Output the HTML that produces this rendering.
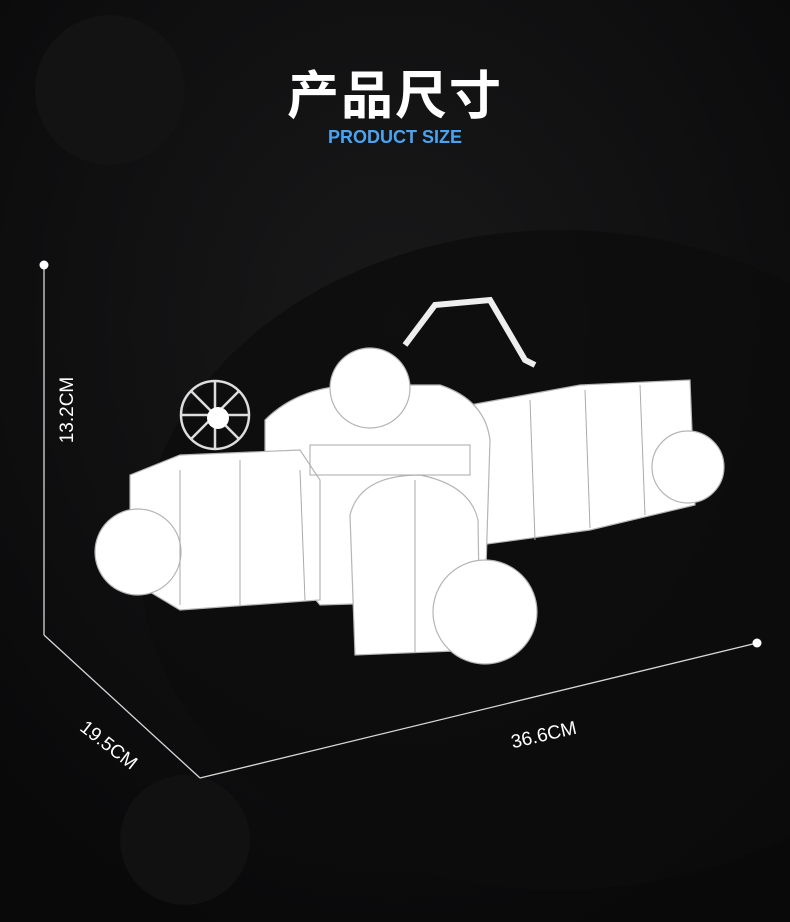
<!DOCTYPE html>
<html><head><meta charset="utf-8"><style>
html,body{margin:0;padding:0;background:#0b0b0c;}
body{width:790px;height:922px;overflow:hidden;position:relative;font-family:"Liberation Sans","Noto Sans CJK SC",sans-serif;}
.t{position:absolute;left:0;width:790px;text-align:center;color:#fff;}
</style></head><body>
<svg width="790" height="922" style="position:absolute;left:0;top:0">
<defs>
<radialGradient id="bg" cx="50%" cy="35%" r="70%"><stop offset="0" stop-color="#19191a"/><stop offset="1" stop-color="#09090a"/></radialGradient>
</defs>
<rect width="790" height="922" fill="url(#bg)"/>
<circle cx="110" cy="90" r="75" fill="#131314"/>
<circle cx="185" cy="840" r="65" fill="#111112"/>
<ellipse cx="560" cy="560" rx="420" ry="330" fill="#0c0c0d" opacity="0.8"/>
<g stroke="#d8d8d8" stroke-width="1.3" fill="none">
<line x1="44" y1="265" x2="44" y2="635"/>
<line x1="44" y1="635" x2="200" y2="778"/>
<line x1="200" y1="778" x2="757" y2="643"/>
</g>
<circle cx="44" cy="265" r="4.5" fill="#fff"/>
<circle cx="757" cy="643" r="4.5" fill="#fff"/>
<g fill="#fff" stroke="#b5b5b5" stroke-width="1.2">
<polygon points="470,405 580,385 690,380 695,505 590,530 480,545"/>
<circle cx="688" cy="467" r="36"/>
<path d="M265,420 Q300,385 360,385 L440,385 Q485,400 490,440 L485,600 L320,605 Q280,560 265,500 Z"/>
<ellipse cx="370" cy="388" rx="40" ry="40"/>
<polygon points="130,475 180,455 300,450 320,480 320,600 180,610 130,580"/>
<circle cx="138" cy="552" r="43"/>
<path d="M350,515 Q360,475 420,475 Q470,485 478,520 L480,650 L355,655 Z"/>
<circle cx="485" cy="612" r="52"/>
</g>
<g stroke="#ddd" stroke-width="2.5" fill="none">
<circle cx="215" cy="415" r="34"/>
<line x1="181" y1="415" x2="249" y2="415"/><line x1="215" y1="381" x2="215" y2="449"/>
<line x1="191" y1="391" x2="239" y2="439"/><line x1="239" y1="391" x2="191" y2="439"/>
</g>
<circle cx="218" cy="418" r="11" fill="#fff"/>
<g stroke="#aaa" stroke-width="1" fill="none">
<line x1="300" y1="470" x2="305" y2="600"/><line x1="180" y1="470" x2="180" y2="605"/>
<line x1="240" y1="460" x2="240" y2="605"/><line x1="530" y1="400" x2="535" y2="540"/>
<line x1="585" y1="390" x2="590" y2="528"/><line x1="640" y1="385" x2="645" y2="515"/>
<rect x="310" y="445" width="160" height="30"/>
<line x1="415" y1="480" x2="415" y2="652"/>
</g>
<polyline points="405,345 435,305 490,300 525,360 535,365" stroke="#eee" stroke-width="6" fill="none"/>
</svg>
<div class="t" style="top:54px;font-size:52px;font-weight:bold;letter-spacing:2px">产品尺寸</div>
<div class="t" style="top:127px;font-size:18px;font-weight:bold;color:#4aa3f0">PRODUCT SIZE</div>
<div style="position:absolute;left:68px;top:410px;transform:translate(-50%,-50%) rotate(-90deg);color:#fff;font-size:19px;white-space:nowrap">13.2CM</div>
<div style="position:absolute;left:108px;top:746px;transform:translate(-50%,-50%) rotate(38deg);color:#fff;font-size:19px;white-space:nowrap">19.5CM</div>
<div style="position:absolute;left:544px;top:736px;transform:translate(-50%,-50%) rotate(-13deg);color:#fff;font-size:19px;white-space:nowrap">36.6CM</div>
</body></html>
